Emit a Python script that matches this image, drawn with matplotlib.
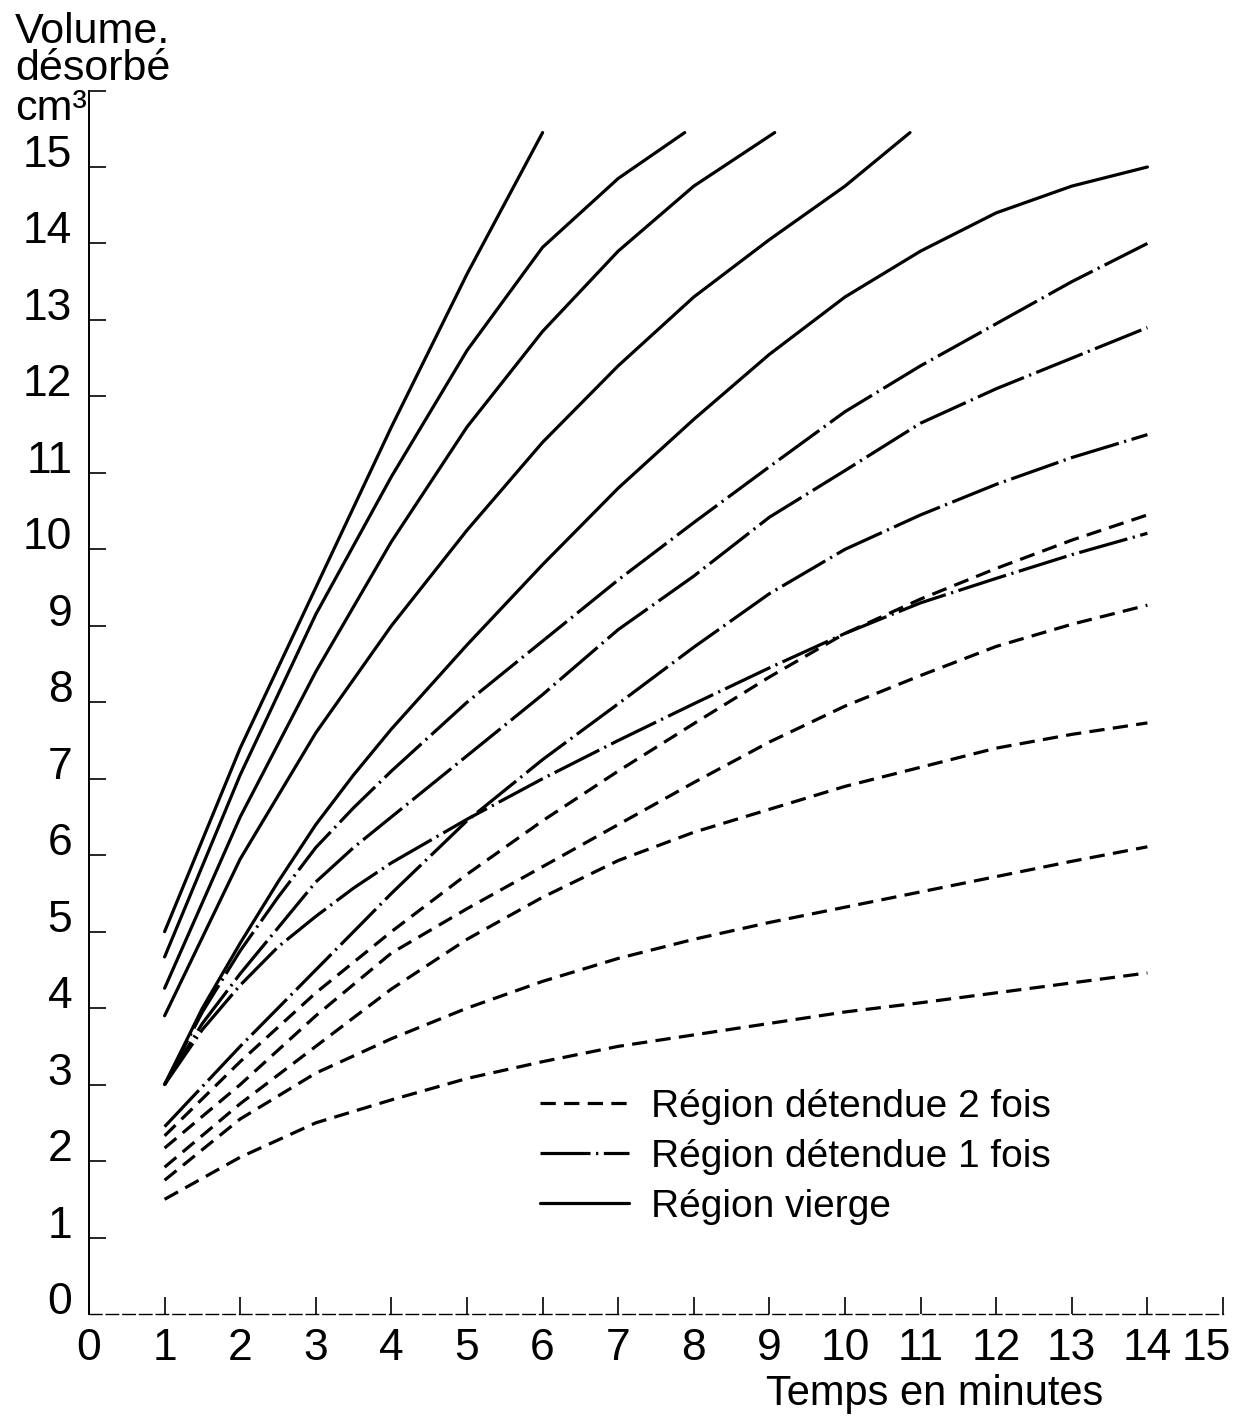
import matplotlib
matplotlib.use("Agg")
import matplotlib.pyplot as plt
from matplotlib.transforms import ScaledTranslation

plt.rcParams['font.family'] = ['Liberation Sans', 'DejaVu Sans']
plt.rcParams['lines.scale_dashes'] = False

# ---------------- data ----------------
x_full = [1, 2, 3, 4, 5, 6, 7, 8, 9, 10, 11, 12, 13, 14]
x_fine = [1, 1.5, 2, 2.5, 3, 3.5, 4, 5, 6, 7, 8, 9, 10, 11, 12, 13, 14]

# Région vierge (solid)
s1_x = [1, 2, 3, 4, 5, 6.0]
s1_y = [5.0, 7.4, 9.5, 11.6, 13.6, 15.45]
s2_x = [1, 2, 3, 4, 5, 6, 7, 7.88]
s2_y = [4.67, 7.05, 9.15, 10.95, 12.6, 13.95, 14.85, 15.45]
s3_x = [1, 2, 3, 4, 5, 6, 7, 8, 9.07]
s3_y = [4.26, 6.5, 8.4, 10.1, 11.6, 12.85, 13.9, 14.75, 15.45]
s4_x = [1, 2, 3, 4, 5, 6, 7, 8, 9, 10, 10.86]
s4_y = [3.9, 5.95, 7.6, 9.0, 10.25, 11.4, 12.4, 13.3, 14.05, 14.75, 15.45]
s5_y = [3.0, 4.0, 4.85, 5.65, 6.4, 7.05, 7.65, 8.75, 9.8, 10.8, 11.7, 12.55, 13.3, 13.9, 14.4, 14.75, 15.0]

# Région détendue 1 fois (dash-dot)
dd1_y = [3.0, 3.95, 4.75, 5.45, 6.1, 6.62, 7.1, 8.0, 8.8, 9.6, 10.35, 11.08, 11.8, 12.4, 12.95, 13.5, 14.0]
dd2_y = [3.0, 3.8, 4.45, 5.05, 5.65, 6.1, 6.5, 7.3, 8.1, 8.95, 9.65, 10.42, 11.03, 11.65, 12.1, 12.5, 12.9]
dd3_y = [2.45, 3.5, 4.5, 5.5, 6.45, 7.25, 7.98, 8.72, 9.42, 10.0, 10.45, 10.85, 11.2, 11.5]
dd4_y = [3.0, 3.72, 4.3, 4.8, 5.2, 5.57, 5.9, 6.47, 7.0, 7.5, 7.98, 8.45, 8.9, 9.3, 9.62, 9.93, 10.21]

# Région détendue 2 fois (dashed)
d1_y = [2.33, 3.3, 4.2, 5.0, 5.75, 6.45, 7.1, 7.72, 8.33, 8.9, 9.35, 9.75, 10.12, 10.45]
d2_y = [2.17, 3.0, 3.9, 4.72, 5.3, 5.85, 6.4, 6.95, 7.48, 7.95, 8.35, 8.73, 9.02, 9.27]
d3_y = [1.92, 2.75, 3.5, 4.25, 4.9, 5.45, 5.93, 6.3, 6.6, 6.9, 7.15, 7.4, 7.58, 7.73]
d4_y = [1.75, 2.55, 3.15, 3.6, 4.0, 4.35, 4.65, 4.9, 5.12, 5.32, 5.52, 5.72, 5.92, 6.11]
d5_y = [1.5, 2.05, 2.5, 2.8, 3.08, 3.3, 3.5, 3.65, 3.8, 3.95, 4.07, 4.2, 4.33, 4.46]

x_ticks = list(range(0, 16))
y_ticks = list(range(0, 17))
y_ticklabels = [str(i) for i in range(0, 16)] + [""]
legend_labels = ["Région détendue 2 fois", "Région détendue 1 fois", "Région vierge"]

# ---------------- figure ----------------
fig = plt.figure(figsize=(12.42, 14.2), dpi=100)
ax = fig.add_axes([0.07166, 0.07465, 0.91304, 0.8616])

LW = 2.3
solid_kw = dict(color="black", lw=LW, ls="-", solid_capstyle="round", solid_joinstyle="round")
dashed_kw = dict(color="black", lw=LW, ls=(0, (11, 6)), dash_capstyle="butt")
dashdot_kw = dict(color="black", lw=LW, ls=(0, (36, 4, 1.6, 4)), dash_capstyle="butt")

h_solid = None
for xs, ys in [(s1_x, s1_y), (s2_x, s2_y), (s3_x, s3_y), (s4_x, s4_y), (x_fine, s5_y)]:
    ln, = ax.plot(xs, ys, **solid_kw)
    h_solid = h_solid or ln

h_dd = None
for xs, ys in [(x_fine, dd1_y), (x_fine, dd2_y), (x_full, dd3_y), (x_fine, dd4_y)]:
    ln, = ax.plot(xs, ys, **dashdot_kw)
    h_dd = h_dd or ln

h_d = None
for ys in [d1_y, d2_y, d3_y, d4_y, d5_y]:
    ln, = ax.plot(x_full, ys, **dashed_kw)
    h_d = h_d or ln

ax.set_xlim(0, 15)
ax.set_ylim(0, 16)

for s in ["top", "right"]:
    ax.spines[s].set_visible(False)
ax.spines["left"].set_linewidth(1.4)
ax.spines["bottom"].set_linewidth(1.0)
ax.spines["bottom"].set_linestyle((0, (9, 3)))

ax.set_xticks(x_ticks)
ax.set_xticklabels([str(v) for v in x_ticks])
ax.set_yticks(y_ticks)
ax.set_yticklabels(y_ticklabels)
ax.tick_params(axis="x", direction="in", length=12, width=1.2, pad=10, labelsize=32)
ax.tick_params(axis="y", direction="in", length=12, width=1.2, pad=12, labelsize=32)
plt.setp(ax.get_yticklabels(), va="baseline")
ax.yaxis.get_major_ticks()[0].tick1line.set_visible(False)
# the last x label sits a little left of its tick, as in the reference
last_lbl = ax.get_xticklabels()[-1]
last_lbl.set_transform(last_lbl.get_transform() + ScaledTranslation(-12 / 72, 0, fig.dpi_scale_trans))

# axis titles
fig.text(15 / 1242, 1 - 43 / 1420, "Volume.", fontsize=31, ha="left", va="baseline")
fig.text(15 / 1242, 1 - 80 / 1420, "désorbé", fontsize=31, ha="left", va="baseline")
fig.text(15 / 1242, 1 - 120 / 1420, "cm³", fontsize=31, ha="left", va="baseline")
fig.text(935 / 1242, 1 - 1405 / 1420, "Temps en minutes", fontsize=30, ha="center", va="baseline")

ax.legend([h_d, h_dd, h_solid], legend_labels, loc="upper left",
          bbox_to_anchor=(0.3977, 0.184), frameon=False, fontsize=28,
          handlelength=2.3, handletextpad=0.55, labelspacing=0.36,
          borderpad=0, borderaxespad=0)

fig.savefig("out.png", dpi=100, facecolor="white")
